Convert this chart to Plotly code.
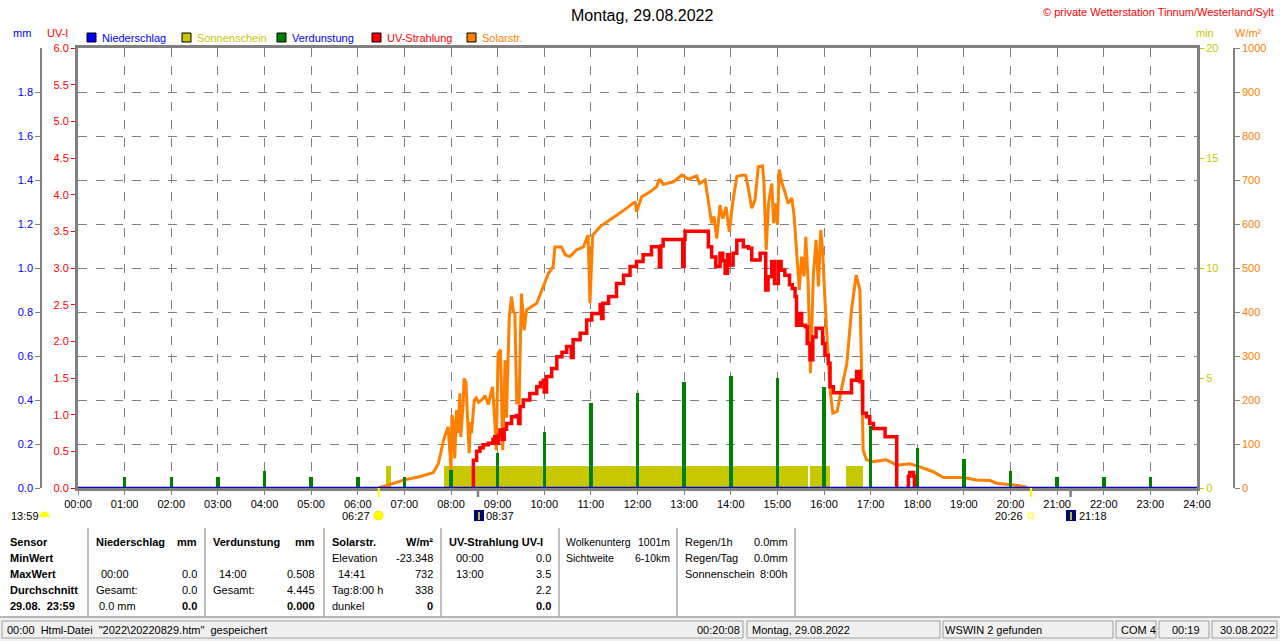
import plotly.graph_objects as go

# ---------------- data ----------------
hour_labels = [f"{h:02d}:00" for h in range(25)]

# Solarstrahlung (W/m²): time in hours, value
solar_t = [6.45, 6.60, 6.98, 7.34, 7.62, 7.73, 7.84, 7.94, 8.00, 8.02, 8.05, 8.08, 8.12, 8.15,
           8.19, 8.21, 8.26, 8.28, 8.32, 8.39, 8.42, 8.44, 8.47, 8.50, 8.54, 8.59, 8.66, 8.73,
           8.80, 8.89, 8.94, 8.97, 9.01, 9.06, 9.11, 9.16, 9.19, 9.25, 9.30, 9.34, 9.37, 9.41,
           9.46, 9.51, 9.57, 9.62, 9.84, 9.98, 10.09, 10.19, 10.23, 10.37, 10.45, 10.55, 10.69,
           10.84, 10.94, 10.98, 11.04, 11.20, 11.34, 11.55, 11.77, 11.95, 11.98, 12.09, 12.27,
           12.41, 12.47, 12.55, 12.77, 12.95, 13.09, 13.27, 13.33, 13.45, 13.52, 13.59, 13.64,
           13.70, 13.77, 13.83, 13.90, 13.97, 14.04, 14.13, 14.23, 14.32, 14.37, 14.45, 14.52,
           14.59, 14.68, 14.71, 14.76, 14.81, 14.88, 14.92, 14.96, 15.00, 15.04, 15.10, 15.16,
           15.23, 15.31, 15.36, 15.41, 15.47, 15.52, 15.57, 15.61, 15.66, 15.71, 15.77, 15.83,
           15.88, 15.93, 15.97, 16.02, 16.07, 16.13, 16.19, 16.28, 16.38, 16.49, 16.59, 16.69,
           16.77, 16.81, 16.84, 16.91, 17.06, 17.34, 17.56, 17.84, 18.06, 18.34, 18.56, 18.99,
           19.27, 19.56, 19.70, 20.06, 20.31, 20.36]
solar_w = [0, 5, 18, 26, 35, 56, 109, 139, 41, 166, 150, 67, 177, 125,
           215, 116, 190, 249, 240, 79, 150, 125, 170, 200, 205, 195, 200, 210,
           190, 230, 150, 86, 306, 314, 86, 290, 160, 389, 435, 400, 397, 193,
           193, 442, 359, 405, 420, 458, 488, 503, 548, 548, 530, 526, 541,
           548, 575, 420, 575, 594, 605, 620, 636, 651, 628, 662, 673,
           685, 702, 690, 696, 711, 702, 709, 692, 700, 651, 602, 617,
           567, 643, 612, 639, 582, 647, 708, 711, 711, 685, 636, 655,
           730, 732, 700, 541, 647, 692, 602, 647, 598, 724, 692, 673,
           647, 659, 617, 541, 450, 526, 481, 571, 465, 261, 480, 564,
           458, 586, 541, 427, 344, 223, 170, 174, 227, 283, 405, 484,
           450, 276, 86, 64, 60, 64, 52, 55, 48, 37, 24, 24,
           18, 17, 11, 7, 3, 0]

# UV-Strahlung (UV-I)
uv_t = [8.46, 8.48, 8.55, 8.62, 8.69, 8.80, 8.90, 8.94, 8.97, 9.02, 9.05, 9.10, 9.14, 9.19,
        9.30, 9.40, 9.45, 9.48, 9.55, 9.69, 9.84, 9.92, 9.98, 10.00, 10.05, 10.16, 10.27,
        10.38, 10.48, 10.55, 10.58, 10.62, 10.77, 10.91, 11.02, 11.20, 11.23, 11.26, 11.38,
        11.55, 11.70, 11.84, 11.98, 12.12, 12.30, 12.45, 12.47, 12.50, 12.55, 12.95, 12.97,
        13.00, 13.02, 13.45, 13.52, 13.59, 13.68, 13.77, 13.83, 13.88, 13.93, 13.97, 14.05,
        14.13, 14.27, 14.38, 14.45, 14.56, 14.63, 14.72, 14.75, 14.80, 14.88, 14.94, 15.02,
        15.08, 15.16, 15.26, 15.32, 15.38, 15.41, 15.45, 15.52, 15.60, 15.64, 15.70, 15.76,
        15.83, 15.93, 15.97, 16.02, 16.09, 16.13, 16.20, 16.52, 16.59, 16.70, 16.77, 16.83,
        16.91, 16.98, 17.06, 17.27, 17.31, 17.52, 17.56, None,
        17.80, 17.81, 17.84, 17.89, 17.92, 17.94]
uv_i = [0, 0.38, 0.50, 0.55, 0.59, 0.61, 0.66, 0.70, 0.61, 0.72, 0.79, 0.66, 0.80, 0.88,
        0.97, 0.99, 0.88, 1.11, 1.20, 1.29, 1.38, 1.44, 1.47, 1.31, 1.52, 1.63, 1.79,
        1.85, 1.93, 1.93, 1.78, 2.02, 2.11, 2.29, 2.38, 2.50, 2.31, 2.52, 2.61,
        2.79, 2.90, 3.02, 3.09, 3.18, 3.29, 3.29, 3.02, 3.30, 3.39, 3.39, 3.02,
        3.39, 3.50, 3.50, 3.29, 3.15, 3.02, 3.20, 3.10, 2.93, 3.18, 3.04, 3.20,
        3.38, 3.29, 3.27, 3.11, 3.11, 3.20, 3.20, 2.70, 2.88, 3.09, 2.79, 3.09,
        2.97, 2.90, 2.77, 2.72, 2.61, 2.22, 2.38, 2.22, 2.20, 1.97, 1.75, 2.06,
        2.18, 2.18, 1.97, 1.81, 1.70, 1.38, 1.30, 1.30, 1.47, 1.59, 1.45, 1.02,
        0.97, 0.88, 0.81, 0.81, 0.70, 0.70, 0, None,
        0, 0.16, 0.21, 0.21, 0.16, 0]

# Verdunstung (mm), hourly
evap_h = list(range(1, 24))
evap_mm = [0.051, 0.051, 0.051, 0.079, 0.051, 0.051, 0.051, 0.082, 0.159, 0.256, 0.386,
           0.433, 0.483, 0.508, 0.500, 0.460, 0.283, 0.180, 0.130, 0.079, 0.051, 0.051, 0.051]

# Sonnenschein (min) blocks
sun_start = [6.60, 7.85, 15.71, 16.47]
sun_end = [6.72, 15.66, 16.13, 16.83]
sun_min = [1.0, 1.0, 1.0, 1.0]

# Niederschlag (mm)
rain_t = [0, 24]
rain_mm = [0, 0]

# ---------------- layout helpers ----------------
FONT = "Liberation Sans, Arial, sans-serif"
WIDTH, HEIGHT = 1280, 641
ML, MR, MT, MB = 30, 30, 48, 153
PW = WIDTH - ML - MR
PH = HEIGHT - MT - MB


def PX(x):
    return (x - ML) / PW


def PY(y):
    return (MT + PH - y) / PH


GRAY = "#808080"
BLUE = "#0000FF"
RED = "#FF0000"
OLIVE = "#C8C800"
GREEN = "#008000"
ORANGE = "#FF8000"

ann = []
shapes = []


def txt(s, x, y, color="black", size=11, anchor="left", bold=False):
    ann.append(dict(text=(f"<b>{s}</b>" if bold else s), x=PX(x), y=PY(y),
                    xref="paper", yref="paper", xanchor=anchor, yanchor="middle",
                    showarrow=False, borderpad=0,
                    font=dict(family=FONT, size=size, color=color)))


def rect(x0, y0, x1, y1, fill, line=None, lw=1, layer="above"):
    shapes.append(dict(type="rect", xref="paper", yref="paper",
                       x0=PX(x0), x1=PX(x1), y0=PY(y1), y1=PY(y0),
                       fillcolor=fill, layer=layer,
                       line=dict(color=line if line else fill, width=lw if line else 0)))


def seg(x0, y0, x1, y1, color, w=1):
    shapes.append(dict(type="line", xref="paper", yref="paper",
                       x0=PX(x0), x1=PX(x1), y0=PY(y0), y1=PY(y1),
                       line=dict(color=color, width=w)))


def circ(x0, y0, x1, y1, fill, line=None):
    shapes.append(dict(type="circle", xref="paper", yref="paper",
                       x0=PX(x0), x1=PX(x1), y0=PY(y1), y1=PY(y0),
                       fillcolor=fill, line=dict(color=line if line else fill, width=1)))


# ---------------- traces ----------------
fig = go.Figure()

sun_mid = [(s + e) / 2 for s, e in zip(sun_start, sun_end)]
sun_w = [e - s for s, e in zip(sun_start, sun_end)]
fig.add_trace(go.Bar(x=sun_mid, y=sun_min, width=sun_w, marker=dict(color=OLIVE, line=dict(width=0)),
                     yaxis="y", name="Sonnenschein"))
fig.add_trace(go.Scatter(x=solar_t, y=solar_w, mode="lines", line=dict(color=ORANGE, width=3),
                         yaxis="y2", name="Solarstr."))
fig.add_trace(go.Scatter(x=uv_t, y=uv_i, mode="lines", line=dict(color=RED, width=3.5, shape="hv"),
                         connectgaps=False, yaxis="y3", name="UV-Strahlung"))
fig.add_trace(go.Bar(x=evap_h, y=evap_mm, width=0.075, marker=dict(color=GREEN, line=dict(width=0)),
                     yaxis="y4", name="Verdunstung"))
fig.add_trace(go.Scatter(x=rain_t, y=rain_mm, mode="lines", line=dict(color="#0000C0", width=2.5),
                         yaxis="y4", name="Niederschlag"))

dom = [PX(78), PX(1197)]

fig.update_layout(
    width=WIDTH, height=HEIGHT,
    margin=dict(l=ML, r=MR, t=MT, b=MB, autoexpand=False),
    paper_bgcolor="white", plot_bgcolor="white",
    showlegend=False, barmode="overlay", bargap=0,
    xaxis=dict(domain=dom, range=[0, 24], tickvals=list(range(25)), ticktext=hour_labels,
               tickfont=dict(family=FONT, size=11, color="black"),
               showline=True, linecolor=GRAY, linewidth=3, mirror=True,
               ticks="outside", ticklen=4, tickcolor=GRAY, tickwidth=1,
               showgrid=True, gridcolor=GRAY, griddash="dash", gridwidth=1,
               zeroline=False, fixedrange=True),
    # Sonnenschein (min) - right, at plot edge
    yaxis=dict(range=[0, 20], tickvals=[0, 5, 10, 15, 20], side="right", anchor="x",
               tickfont=dict(family=FONT, size=11, color=OLIVE),
               ticks="outside", ticklen=4, tickcolor=OLIVE,
               showline=True, linecolor=GRAY, linewidth=3,
               showgrid=False, zeroline=False, fixedrange=True),
    # Solar W/m² - right, free
    yaxis2=dict(range=[0, 1000], tickvals=list(range(0, 1001, 100)), overlaying="y",
                side="right", anchor="free", position=PX(1234),
                tickfont=dict(family=FONT, size=11, color=ORANGE),
                ticks="outside", ticklen=5, tickcolor=GRAY,
                showline=True, linecolor=GRAY, linewidth=1.5,
                showgrid=False, zeroline=False, fixedrange=True),
    # UV-I - left at plot edge
    yaxis3=dict(range=[0, 6], tickvals=[i * 0.5 for i in range(13)],
                ticktext=[f"{i * 0.5:.1f}" for i in range(13)], overlaying="y",
                side="left", anchor="x",
                tickfont=dict(family=FONT, size=11, color=RED),
                ticks="outside", ticklen=4, tickcolor=RED,
                showline=True, linecolor=GRAY, linewidth=3,
                showgrid=False, zeroline=False, fixedrange=True),
    # mm - left, free
    yaxis4=dict(range=[0, 2], tickvals=[i * 0.2 for i in range(10)],
                ticktext=[f"{i * 0.2:.1f}" for i in range(10)], overlaying="y",
                side="left", anchor="free", position=PX(41),
                tickfont=dict(family=FONT, size=11, color=BLUE),
                ticks="outside", ticklen=5, tickcolor=GRAY,
                showline=True, linecolor=GRAY, linewidth=1.5,
                showgrid=True, gridcolor=GRAY, griddash="dash", gridwidth=1,
                zeroline=False, fixedrange=True),
)

# ---------------- header texts ----------------
txt("Montag, 29.08.2022", 642, 15, size=16, anchor="center")
txt("© private Wetterstation Tinnum/Westerland/Sylt", 1275, 12, color=RED, size=11, anchor="right")
txt("mm", 22, 33, color=BLUE, anchor="center")
txt("UV-I", 57, 33, color=RED, anchor="center")
txt("min", 1205, 33, color=OLIVE, anchor="center")
txt("W/m²", 1248, 33, color=ORANGE, anchor="center")

legend_items = [("Niederschlag", BLUE, BLUE, 87), ("Sonnenschein", OLIVE, OLIVE, 182),
                ("Verdunstung", GREEN, BLUE, 277), ("UV-Strahlung", RED, RED, 372),
                ("Solarstr.", ORANGE, ORANGE, 467)]
for name, sq, tc, x0 in legend_items:
    rect(x0, 33, x0 + 9, 42, sq, line="black", lw=1)
    txt(name, x0 + 14, 38, color=tc)

# ---------------- below-axis markers ----------------
seg(378.8, 488, 378.8, 497, "#FFFF00", 2)
seg(478, 488, 478, 497, GRAY, 2.5)
seg(1031, 488, 1031, 497, "#FFFF00", 2)
seg(1070.6, 488, 1070.6, 497, GRAY, 2.5)

ROW2 = 516
txt("13:59", 10, ROW2)
circ(40, ROW2 - 4, 49, ROW2 + 5, "#FFFF00")
rect(39, ROW2 + 1, 50, ROW2 + 6, "white")
txt("06:27", 371, ROW2, anchor="right")
circ(374, ROW2 - 5, 383, ROW2 + 4, "#FFFF00", line="#FFE000")
rect(474, ROW2 - 6, 484, ROW2 + 5, "#000080")
seg(479, ROW2 - 4, 479, ROW2 + 4, "#FFFF00", 1.5)
txt("08:37", 485, ROW2)
txt("20:26", 1024, ROW2, anchor="right")
rect(1028, ROW2 - 3, 1033, ROW2 + 2, "white", line="#FFFF00", lw=1)
rect(1066, ROW2 - 6, 1076, ROW2 + 5, "#000080")
seg(1071, ROW2 - 4, 1071, ROW2 + 4, "#FFFF00", 1.5)
txt("21:18", 1078, ROW2)

# ---------------- table ----------------
for xs in [88, 205, 324, 441, 559, 677, 795]:
    seg(xs, 528, xs, 617, GRAY, 1)

rows = [542, 558, 574, 590, 606]
for i, s in enumerate(["Sensor", "MinWert", "MaxWert", "Durchschnitt", "29.08.&nbsp; 23:59"]):
    txt(s, 9, rows[i], bold=True)

txt("Niederschlag", 94.7, rows[0], bold=True)
txt("mm", 198, rows[0], bold=True, anchor="right")
txt("00:00", 100, rows[2])
txt("0.0", 198, rows[2], anchor="right")
txt("Gesamt:", 94.7, rows[3])
txt("0.0", 198, rows[3], anchor="right")
txt("0.0 mm", 98, rows[4])
txt("0.0", 198, rows[4], anchor="right", bold=True)

txt("Verdunstung", 212, rows[0], bold=True)
txt("mm", 316, rows[0], bold=True, anchor="right")
txt("14:00", 218, rows[2])
txt("0.508", 316, rows[2], anchor="right")
txt("Gesamt:", 212, rows[3])
txt("4.445", 316, rows[3], anchor="right")
txt("0.000", 316, rows[4], anchor="right", bold=True)

txt("Solarstr.", 331, rows[0], bold=True)
txt("W/m²", 433.5, rows[0], bold=True, anchor="right")
txt("Elevation", 331, rows[1])
txt("-23.348", 433.5, rows[1], anchor="right")
txt("14:41", 337, rows[2])
txt("732", 433.5, rows[2], anchor="right")
txt("Tag:8:00 h", 331, rows[3])
txt("338", 433.5, rows[3], anchor="right")
txt("dunkel", 331, rows[4])
txt("0", 433.5, rows[4], anchor="right", bold=True)

txt("UV-Strahlung UV-I", 448, rows[0], bold=True)
txt("00:00", 455, rows[1])
txt("0.0", 552, rows[1], anchor="right")
txt("13:00", 455, rows[2])
txt("3.5", 552, rows[2], anchor="right")
txt("2.2", 552, rows[3], anchor="right")
txt("0.0", 552, rows[4], anchor="right", bold=True)

txt("Wolkenunterg", 565, rows[0], size=10.5)
txt("1001m", 671, rows[0], anchor="right", size=10.5)
txt("Sichtweite", 565, rows[1], size=10.5)
txt("6-10km", 671, rows[1], anchor="right", size=10.5)

txt("Regen/1h", 684, rows[0])
txt("0.0mm", 789, rows[0], anchor="right")
txt("Regen/Tag", 684, rows[1])
txt("0.0mm", 789, rows[1], anchor="right")
txt("Sonnenschein", 684, rows[2])
txt("8:00h", 789, rows[2], anchor="right")

# ---------------- status bar ----------------
rect(0, 617, 1280, 641, "#F0F0F0")
seg(0, 617, 1280, 617, "#A0A0A0", 1.5)
for x0, x1 in [(2, 743), (747, 940), (943, 1113), (1116, 1156), (1159, 1209), (1212, 1277)]:
    rect(x0, 621, x1, 638, "#F0F0F0", line="#A0A0A0", lw=1)
txt("00:00&nbsp; Html-Datei&nbsp; \"2022\\20220829.htm\"&nbsp; gespeichert", 6, 630)
txt("00:20:08", 741, 630, anchor="right")
txt("Montag, 29.08.2022", 751, 630)
txt("WSWIN 2 gefunden", 944, 630)
txt("COM 4", 1120, 630)
txt("00:19", 1171, 630)
txt("30.08.2022", 1219, 630)

fig.update_layout(annotations=ann, shapes=shapes)

fig.write_html("out.html",
               config={"displayModeBar": False, "staticPlot": False},
               post_script="document.body.style.margin='0px';document.body.style.padding='0px';"
                           "document.body.style.overflow='hidden';")
